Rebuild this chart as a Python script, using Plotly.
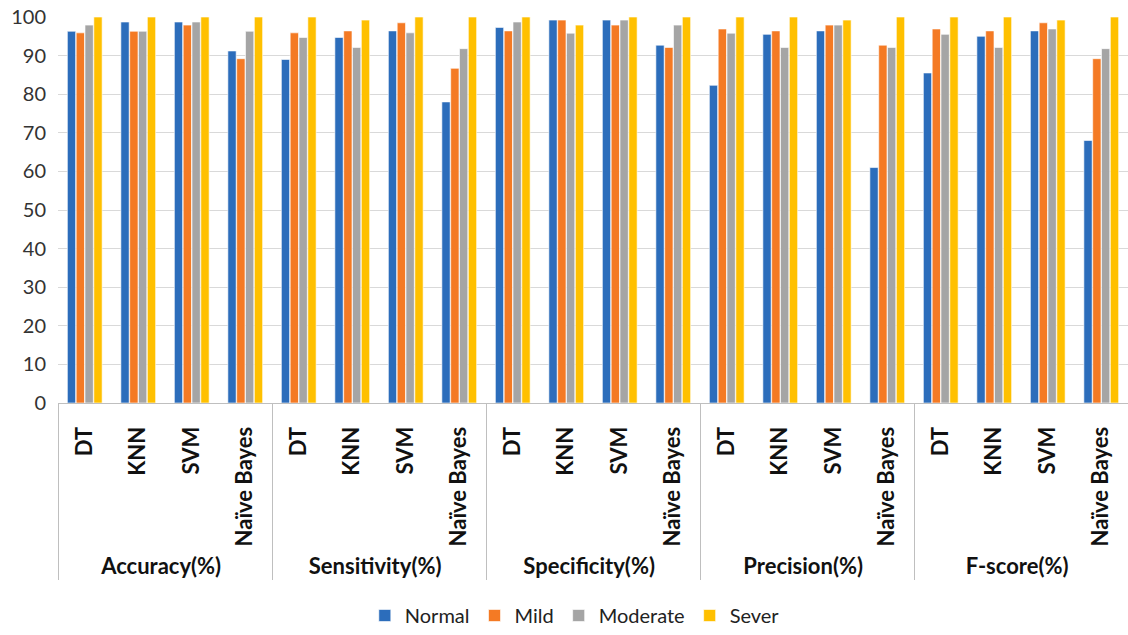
import plotly.graph_objects as go

metrics = ["Accuracy(%)", "Sensitivity(%)", "Specificity(%)", "Precision(%)", "F-score(%)"]
models = ["DT", "KNN", "SVM", "Naïve Bayes"]

# Scores per metric, in model order DT, KNN, SVM, Naïve Bayes
normal = [96.3, 98.7, 98.7, 91.2,
          89.0, 94.7, 96.4, 78.0,
          97.3, 99.2, 99.2, 92.7,
          82.3, 95.5, 96.4, 61.0,
          85.5, 95.0, 96.4, 68.0]
mild = [95.9, 96.3, 97.9, 89.2,
        95.9, 96.4, 98.5, 86.7,
        96.4, 99.2, 97.9, 92.1,
        96.9, 96.4, 97.9, 92.7,
        96.9, 96.4, 98.5, 89.2]
moderate = [97.9, 96.3, 98.7, 96.3,
            94.7, 92.1, 95.9, 91.8,
            98.7, 95.8, 99.2, 97.9,
            95.8, 92.1, 97.9, 92.1,
            95.5, 92.1, 96.9, 91.8]
sever = [100, 100, 100, 100,
         100, 99.2, 100, 100,
         100, 97.9, 100, 100,
         100, 100, 99.2, 100,
         100, 100, 99.2, 100]

series = [("Normal", normal, "#2C6DBB"),
          ("Mild", mild, "#F47A24"),
          ("Moderate", moderate, "#A5A5A5"),
          ("Sever", sever, "#FFC000")]

outer = [m for m in metrics for _ in models]
inner = [md for _ in metrics for md in models]

fig = go.Figure()
for name, vals, color in series:
    fig.add_trace(go.Bar(
        x=[outer, inner], y=vals, name=name,
        marker=dict(color=color, line=dict(color="white", width=0.6)),
    ))

fig.update_layout(
    width=1128, height=635,
    barmode="group", bargap=0.34, bargroupgap=0.06,
    plot_bgcolor="white", paper_bgcolor="white",
    margin=dict(l=58, r=0, t=17, b=228),
    font=dict(family="Lato, Open Sans, sans-serif", color="#222"),
    legend=dict(orientation="h", x=0.483, xanchor="center", y=-0.552, yanchor="middle",
                font=dict(size=20, color="#222"), itemwidth=30, traceorder="normal"),
    yaxis=dict(range=[0, 100], dtick=10, showgrid=True, gridcolor="#D9D9D9", gridwidth=1,
               zeroline=False, showline=False, tickfont=dict(size=20, color="#333"),
               ticks="", ticklabelstandoff=11),
    xaxis=dict(type="multicategory", tickangle=-90, showline=True, linecolor="#BFBFBF",
               linewidth=1, showdividers=True, dividercolor="#BFBFBF", dividerwidth=1,
               tickfont=dict(size=22, color="#111", family="Lato, sans-serif",
                             weight="bold"),
               ticks="", ticklabelstandoff=14),
)

fig.write_html("out.html")
